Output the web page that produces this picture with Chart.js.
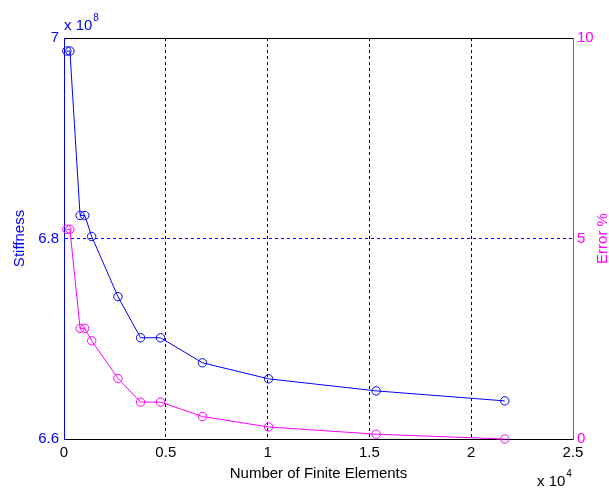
<!DOCTYPE html>
<html>
<head>
<meta charset="utf-8">
<script src="https://cdn.jsdelivr.net/npm/chart.js@4"></script>
<style>
  html, body { margin: 0; padding: 0; background: #ffffff; }
  #wrap { width: 609px; height: 489px; }
</style>
</head>
<body>
<div id="wrap"><canvas id="c" width="609" height="489"></canvas></div>
<script>
// ---- data (x in units of 1e4 elements, stiffness in units of 1e8) ----
const elements  = [0.014, 0.029, 0.079, 0.102, 0.136, 0.265, 0.376, 0.474, 0.680, 1.005, 1.533, 2.165];
const stiffness = [6.987, 6.987, 6.823, 6.823, 6.802, 6.742, 6.701, 6.701, 6.676, 6.660, 6.648, 6.638];
const errorPct  = [5.23, 5.23, 2.76, 2.76, 2.45, 1.51, 0.92, 0.92, 0.56, 0.30, 0.12, 0.00];

const xTicks     = [0, 0.5, 1, 1.5, 2, 2.5];
const leftTicks  = [6.6, 6.8, 7];
const rightTicks = [0, 5, 10];
const xGridAt    = [0.5, 1, 1.5, 2];
const leftGridAt = [6.8];

const xTitle = 'Number of Finite Elements';
const leftTitle = 'Stiffness';
const rightTitle = 'Error %';

const BLUE = '#0000ff';
const MAGENTA = '#ff00ff';
const FONT = '"Liberation Sans", Arial, sans-serif';

const near = (a, b) => Math.abs(a - b) < 1e-6;

const textPlugin = {
  id: 'matlabText',
  afterDraw(chart) {
    const ctx = chart.ctx;
    const ca = chart.chartArea;
    ctx.save();
    // x-axis title
    ctx.fillStyle = '#000';
    ctx.font = '15px ' + FONT;
    ctx.textAlign = 'center';
    ctx.textBaseline = 'alphabetic';
    ctx.fillText(xTitle, (ca.left + ca.right) / 2, 478);
    // left title
    ctx.save();
    ctx.translate(20, (ca.top + ca.bottom) / 2);
    ctx.rotate(-Math.PI / 2);
    ctx.fillStyle = BLUE;
    ctx.textBaseline = 'middle';
    ctx.fillText(leftTitle, 0, 0);
    ctx.restore();
    // right title
    ctx.save();
    ctx.translate(603, (ca.top + ca.bottom) / 2);
    ctx.rotate(-Math.PI / 2);
    ctx.fillStyle = MAGENTA;
    ctx.textBaseline = 'middle';
    ctx.fillText(rightTitle, 0, 0);
    ctx.restore();
    // exponent labels
    ctx.textAlign = 'left';
    ctx.textBaseline = 'alphabetic';
    ctx.fillStyle = BLUE;
    ctx.font = '15px ' + FONT;
    ctx.fillText('x 10', ca.left, 30);
    let w = ctx.measureText('x 10').width;
    ctx.font = '10px ' + FONT;
    ctx.fillText('8', ca.left + w + 1, 21);
    ctx.fillStyle = '#000';
    ctx.font = '15px ' + FONT;
    ctx.fillText('x 10', 537, 486);
    w = ctx.measureText('x 10').width;
    ctx.font = '10px ' + FONT;
    ctx.fillText('4', 537 + w + 1, 477);
    ctx.restore();
  }
};

new Chart(document.getElementById('c'), {
  type: 'line',
  data: {
    datasets: [
      {
        label: 'Stiffness',
        yAxisID: 'y',
        xAxisID: 'x',
        data: elements.map((x, i) => ({ x: x, y: stiffness[i] })),
        borderColor: BLUE,
        borderWidth: 1,
        pointRadius: 4.2,
        pointBorderWidth: 1,
        pointBorderColor: BLUE,
        pointBackgroundColor: 'rgba(0,0,0,0)',
        tension: 0,
        fill: false,
        clip: false
      },
      {
        label: 'Error %',
        yAxisID: 'y2',
        xAxisID: 'x',
        data: elements.map((x, i) => ({ x: x, y: errorPct[i] })),
        borderColor: MAGENTA,
        borderWidth: 1,
        pointRadius: 4.2,
        pointBorderWidth: 1,
        pointBorderColor: MAGENTA,
        pointBackgroundColor: 'rgba(0,0,0,0)',
        tension: 0,
        fill: false,
        clip: false
      }
    ]
  },
  options: {
    responsive: false,
    animation: false,
    devicePixelRatio: 1,
    layout: { padding: { top: 38, left: 0, right: 0, bottom: 0 } },
    plugins: { legend: { display: false }, tooltip: { enabled: false } },
    scales: {
      x: {
        type: 'linear',
        position: 'bottom',
        min: 0, max: 2.5,
        afterBuildTicks: s => { s.ticks = xTicks.map(v => ({ value: v })); },
        afterFit: s => { s.height = 50; },
        ticks: {
          color: '#000',
          font: { family: FONT, size: 15 },
          padding: 5,
          maxRotation: 0,
          autoSkip: false,
          callback: v => String(v)
        },
        grid: {
          drawTicks: false,
          lineWidth: 1,
          color: c => (c.tick && xGridAt.some(g => near(g, c.tick.value))) ? '#000000' : 'rgba(0,0,0,0)'
        },
        border: { display: true, color: '#000', width: 1, dash: [3, 3] }
      },
      xTop: {
        type: 'linear',
        position: 'top',
        min: 0, max: 2.5,
        afterFit: s => { s.height = 0; },
        ticks: { display: false },
        grid: { drawOnChartArea: false, drawTicks: false },
        border: { display: true, color: '#000', width: 1 }
      },
      y: {
        type: 'linear',
        position: 'left',
        min: 6.6, max: 7,
        afterBuildTicks: s => { s.ticks = leftTicks.map(v => ({ value: v })); },
        afterFit: s => { s.width = 64; },
        ticks: {
          color: BLUE,
          font: { family: FONT, size: 15 },
          padding: 5,
          autoSkip: false,
          callback: v => String(v)
        },
        grid: {
          drawTicks: false,
          lineWidth: 1,
          color: c => (c.tick && leftGridAt.some(g => near(g, c.tick.value))) ? BLUE : 'rgba(0,0,0,0)'
        },
        border: { display: true, color: BLUE, width: 1, dash: [3, 3] }
      },
      y2: {
        type: 'linear',
        position: 'right',
        min: 0, max: 10,
        afterBuildTicks: s => { s.ticks = rightTicks.map(v => ({ value: v })); },
        afterFit: s => { s.width = 36; },
        ticks: {
          color: MAGENTA,
          font: { family: FONT, size: 15 },
          padding: 4,
          autoSkip: false,
          callback: v => String(v)
        },
        grid: { drawOnChartArea: false, drawTicks: false },
        border: { display: true, color: MAGENTA, width: 1 }
      }
    }
  },
  plugins: [textPlugin]
});
</script>
</body>
</html>
